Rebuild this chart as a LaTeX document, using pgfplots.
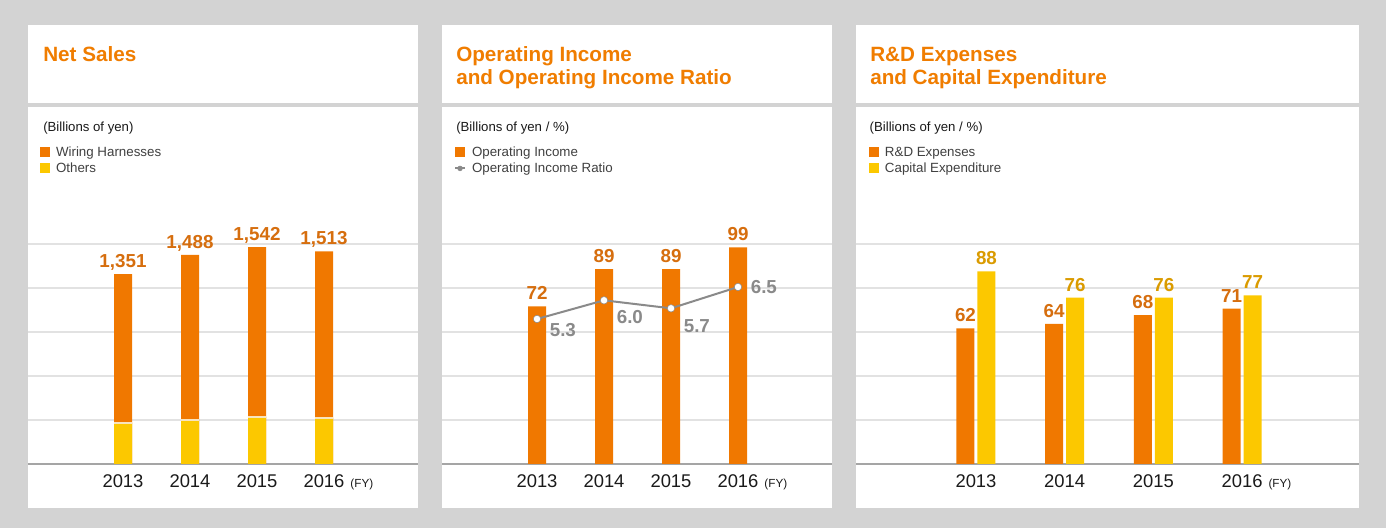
\documentclass[border=0pt]{standalone}
\usepackage{fontspec}
\setmainfont{Liberation Sans}
\usepackage{pgfplots}
\usepackage{pgfplotstable}
\pgfplotsset{compat=1.18}

\definecolor{bggray}{RGB}{211,211,211}
\definecolor{orangeC}{RGB}{240,120,0}
\definecolor{yellowC}{RGB}{252,200,0}
\definecolor{titleC}{RGB}{240,125,0}
\definecolor{labelO}{RGB}{214,110,14}
\definecolor{labelY}{RGB}{218,155,0}
\definecolor{lineC}{RGB}{138,138,138}
\definecolor{gridC}{RGB}{226,226,226}
\definecolor{baseC}{RGB}{165,165,165}
\definecolor{legtext}{RGB}{64,64,64}
\definecolor{tickC}{RGB}{26,26,26}
\definecolor{sepC}{RGB}{248,228,190}

% values in billions of yen / %
\pgfplotstableread{
x others total
0 292 1351
1 313 1488
2 334 1542
3 327 1513
}\netsales

\pgfplotstableread{
x inc ratio dy
0 72 5.3 8.25
1 89 6.0 12.75
2 89 5.7 13.5
3 99 6.5 0
}\opinc

\pgfplotstableread{
x rd capex
0 62 88
1 64 76
2 68 76
3 71 77
}\rdcap

\pgfplotsset{
  sq/.style={legend image code/.code={\fill[##1, draw=none] (0pt,-3.75pt) rectangle (7.5pt,3.75pt);}},
  panel/.style={
    scale only axis, height=165pt, anchor=south west,
    xmin=-1.418, xmax=4.403, ymin=0,
    axis line style={draw=none},
    major tick length=0pt, tick style={draw=none},
    xtick={0,1,2,3},
    xticklabels={2013,2014,2015,{2016\rlap{\hspace{4.5pt}\fontsize{8.8}{10}\selectfont (FY)}}},
    xticklabel style={anchor=base, yshift=-18pt, font=\fontsize{13.8}{16}\selectfont, text=tickC},
    yticklabels={},
    ymajorgrids, grid style={gridC, line width=1.1pt},
    extra y ticks={0}, extra y tick labels={},
    extra y tick style={grid style={baseC, line width=1.3pt}},
    clip=false,
    legend cell align=left,
    legend style={anchor=north west, draw=none, fill=none, inner sep=0pt, outer sep=0pt,
      row sep=2.5pt, font=\fontsize{10}{12}\selectfont, text=legtext,
      nodes={inner sep=0pt, text height=7.5pt, text depth=2pt, anchor=west},
      /tikz/every odd column/.append style={column sep=4.5pt}},
    every node near coord/.append style={anchor=base, yshift=4.9pt, inner sep=0pt,
      font=\bfseries\fontsize{14.1}{16}\selectfont, text=labelO},
    /pgf/number format/.cd, assume math mode=true, 1000 sep={,},
  },
}

\begin{document}
\begin{tikzpicture}
% background and panels (1px = 0.75pt)
\fill[bggray] (0pt,0pt) rectangle (1039.5pt,396pt);
\foreach \l/\r in {21/313.5, 331.5/624, 642/1019.25}{
  \fill[white] (\l pt,318.75pt) rectangle (\r pt,377.25pt);
  \fill[white] (\l pt,15pt) rectangle (\r pt,315.75pt);
}
% titles
\begin{scope}[every node/.style={anchor=base west, inner sep=0pt, text=titleC,
    font=\bfseries\fontsize{15.5}{18}\selectfont}]
\node at (32.25pt,349.5pt) {Net Sales};
\node at (342pt,349.5pt) {Operating Income};
\node at (342pt,332.25pt) {and Operating Income Ratio};
\node at (652.5pt,349.5pt) {R\&D Expenses};
\node at (652.5pt,332.25pt) {and Capital Expenditure};
\end{scope}
\begin{scope}[every node/.style={anchor=base west, inner sep=0pt, text=tickC,
    font=\fontsize{9.9}{12}\selectfont}]
\node at (32.25pt,297pt) {(Billions of yen)};
\node at (342pt,297pt) {(Billions of yen / \%)};
\node at (652.1pt,297pt) {(Billions of yen / \%)};
\end{scope}

% Net Sales: total height in orange, Others over its lower part
\begin{axis}[panel, at={(21pt,48pt)}, width=292.5pt,
  ymax=1565, ytick={313,626,939,1252,1565},
  ybar, bar width=13.5pt,
  legend style={at={(0.0308,1.445)}}]
\addplot[fill=orangeC, draw=none, bar shift=0pt, sq, nodes near coords]
  table[x=x, y=total]{\netsales};
\addlegendentry{Wiring Harnesses}
\addplot[fill=yellowC, draw=none, bar shift=0pt, sq]
  table[x=x, y=others]{\netsales};
\addlegendentry{Others}
% thin light seam between the two segments
\addplot[forget plot, only marks, mark=-, mark size=6.75pt,
  mark options={sepC, line width=0.9pt}]
  table[x=x, y=others]{\netsales};
\end{axis}

% Operating income
\begin{axis}[panel, at={(331.5pt,48pt)}, width=292.5pt,
  ymax=100.5, ytick={20.1,40.2,60.3,80.4,100.5},
  ybar, bar width=13.5pt,
  legend style={at={(0.0308,1.445)}}]
\addplot[fill=orangeC, draw=none, sq, nodes near coords] table[x=x, y=inc]{\opinc};
\addlegendentry{Operating Income}
\addlegendimage{legend image code/.code={
  \draw[lineC, line width=1.5pt] (0pt,0pt) -- (7.5pt,0pt);
  \fill[lineC] (3.75pt,0pt) circle (1.8pt);}}
\addlegendentry{Operating Income Ratio}
\end{axis}
\begin{axis}[at={(331.5pt,48pt)}, anchor=south west, scale only axis,
  width=292.5pt, height=165pt, xmin=-1.418, xmax=4.403,
  ymin=-0.137, ymax=8.112, hide axis, clip=false,
  /pgf/number format/assume math mode=true]
\addplot[lineC, line width=1.5pt, mark=*, mark size=2.8pt,
  mark options={fill=white, draw=lineC, line width=0.4pt},
  visualization depends on={\thisrow{dy} \as \labdy},
  nodes near coords={\pgfmathprintnumber[fixed, fixed zerofill, precision=1]{\pgfplotspointmeta}},
  every node near coord/.append style={anchor=west, inner sep=0pt, xshift=9.4pt,
    yshift={-1pt*\labdy}, text=lineC, font=\bfseries\fontsize{14.1}{16}\selectfont}]
  table[x=x, y=ratio]{\opinc};
\end{axis}

% R&D and capex
\begin{axis}[panel, at={(642pt,48pt)}, width=377.25pt,
  xmin=-1.353, xmax=4.319,
  ymax=100.5, ytick={20.1,40.2,60.3,80.4,100.5},
  ybar, bar width=13.5pt,
  legend style={at={(0.0258,1.445)}}]
\addplot[fill=orangeC, draw=none, bar shift=-7.875pt, sq, nodes near coords]
  table[x=x, y=rd]{\rdcap};
\addlegendentry{R\&D Expenses}
\addplot[fill=yellowC, draw=none, bar shift=7.875pt, sq, nodes near coords,
  every node near coord/.append style={text=labelY}]
  table[x=x, y=capex]{\rdcap};
\addlegendentry{Capital Expenditure}
\end{axis}
\end{tikzpicture}
\end{document}
